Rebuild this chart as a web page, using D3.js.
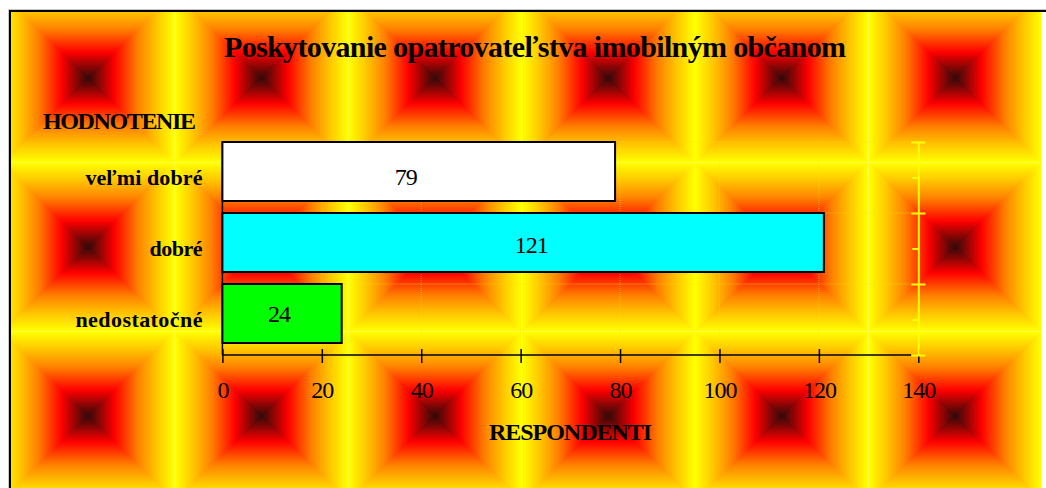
<!DOCTYPE html>
<html>
<head>
<meta charset="utf-8">
<script src="https://cdn.jsdelivr.net/npm/d3@7"></script>
<style>
  html, body { margin: 0; padding: 0; background: #fff; }
  svg { display: block; }
  text { font-family: "Liberation Serif", serif; fill: #000; }
  .cat text { font-size: 22px; font-weight: bold; }
  .xaxis text { font-size: 24px; letter-spacing: -1px; }
</style>
</head>
<body>
<div id="chart"></div>
<script>
const categories = ['veľmi dobré', 'dobré', 'nedostatočné'];
const respondents = [79, 121, 24];
const barColors = ['#ffffff', '#00ffff', '#00ff00'];
const xTicks = [0, 20, 40, 60, 80, 100, 120, 140];
const chartTitle = 'Poskytovanie opatrovateľstva imobilným občanom';
const yTitle = 'HODNOTENIE';
const xTitle = 'RESPONDENTI';

const w = 1046, h = 488;
const plot = {left: 222.4, right: 918.3, top: 142, bottom: 355};
const tile = {x0: 1.4, y0: -6.5, w: 173.4, h: 169};

let svg = d3.select('#chart').append('svg').attr('width', w).attr('height', h);

// box gradient background, drawn as nested rects per tile
let shade = d3.scaleLinear().domain([0, 0.31, 0.58, 0.8, 1])
    .range(['#2e0a0a', '#ff0000', '#ff8000', '#ffc800', '#ffff00']);
svg.append('clipPath').attr('id', 'frame-clip').append('rect')
    .attr('x', 10).attr('y', 11).attr('width', w).attr('height', h);
let bg = svg.append('g').attr('clip-path', 'url(#frame-clip)');
let steps = d3.range(1, 0, -1 / 87);
for (let r = 0; r < 3; r++) {
    for (let c = 0; c < 6; c++) {
        let cx = tile.x0 + (c + 0.5) * tile.w, cy = tile.y0 + (r + 0.5) * tile.h;
        bg.append('g').selectAll('rect').data(steps).join('rect')
            .attr('x', d => cx - d * tile.w / 2)
            .attr('y', d => cy - d * tile.h / 2)
            .attr('width', d => d * tile.w)
            .attr('height', d => d * tile.h)
            .attr('fill', d => shade(d));
    }
}

// outer frame, open at the right and bottom
svg.append('path').attr('d', `M8.5,${h}V9.5H${w}`).attr('fill', 'none').attr('stroke', '#c8c8c8').attr('stroke-width', 1);
svg.append('path').attr('d', `M10,${h}V11H${w}`).attr('fill', 'none').attr('stroke', '#000').attr('stroke-width', 2);

let x = d3.scaleLinear().domain([0, 140]).range([plot.left, plot.right]);
// bars sit at the top of each band
let y = d3.scaleBand().domain(categories).range([plot.top, plot.bottom])
    .paddingInner(12 / 71).paddingOuter(6 / 71).align(0);
let yBands = d3.scaleBand().domain(categories).range([plot.top, plot.bottom]);
let yEdges = d3.scaleLinear().domain([0, 3]).range([plot.top, plot.bottom]);
let color = d3.scaleOrdinal(categories, barColors);

// gridlines
let grid = svg.append('g').attr('stroke', '#ffe000').attr('stroke-opacity', 0.6)
    .attr('stroke-dasharray', '1,1').attr('fill', 'none');
grid.selectAll('.v').data(xTicks.slice(1, -1)).join('line').attr('class', 'v')
    .attr('x1', d => x(d)).attr('x2', d => x(d))
    .attr('y1', plot.top).attr('y2', plot.bottom - 6);
grid.selectAll('.h').data([0, 1, 2]).join('line').attr('class', 'h')
    .attr('x1', plot.left).attr('x2', plot.right)
    .attr('y1', d => yEdges(d)).attr('y2', d => yEdges(d));

// x axis
let xAxis = svg.append('g').attr('class', 'xaxis').attr('transform', `translate(0,${plot.bottom})`)
    .call(d3.axisBottom(x).tickValues(xTicks).tickSize(8).tickSizeOuter(0));
xAxis.select('.domain').attr('stroke-width', 1.5).attr('d', `M${plot.left},0H${x(140) - 7}`);
xAxis.selectAll('.tick line').attr('y1', -6).attr('stroke-width', 1.5);
xAxis.selectAll('.tick text').attr('y', 43).attr('dy', 0).attr('fill', '#000');

// yellow secondary axis on the right
let right = svg.append('g').attr('transform', `translate(${plot.right},0)`);
right.call(d3.axisRight(yEdges).tickValues([0, 1, 2, 3]).tickFormat('').tickSize(7).tickSizeOuter(0));
right.selectAll('.tick line').attr('x1', -7);
right.selectAll('path, line').attr('stroke', '#ffff00').attr('stroke-width', 2);
let rightMinor = svg.append('g').attr('transform', `translate(${plot.right},0)`);
rightMinor.call(d3.axisLeft(yEdges).tickValues([0.5, 1.5, 2.5]).tickFormat('').tickSize(6).tickSizeOuter(0));
rightMinor.select('.domain').remove();
rightMinor.selectAll('line').attr('stroke', '#ffff00').attr('stroke-width', 2);

// category axis
let labelWidths = [117, 53, 127];
let yAxis = svg.append('g').attr('class', 'cat').attr('transform', `translate(${plot.left},0)`)
    .call(d3.axisLeft(yBands).tickSize(0).tickPadding(20));
yAxis.select('.domain').attr('stroke-width', 1.5).attr('d', `M0,${plot.top}V${plot.bottom}`);
yAxis.selectAll('.tick text').attr('dy', '7.5px').attr('fill', '#000')
    .attr('textLength', (d, i) => labelWidths[i]);

// bars
svg.append('g').selectAll('rect').data(categories).join('rect')
    .attr('x', x(0))
    .attr('y', d => y(d))
    .attr('width', (d, i) => x(respondents[i]) - x(0))
    .attr('height', y.bandwidth())
    .attr('fill', d => color(d))
    .attr('stroke', '#000').attr('stroke-width', 2);

// value labels were placed by hand in the original, hence the nudges
let nudgeX = [-13, 8, -3], nudgeY = [13.5, 10, 8];
svg.append('g').selectAll('text').data(categories).join('text')
    .attr('x', (d, i) => (x(0) + x(respondents[i])) / 2 + nudgeX[i])
    .attr('y', (d, i) => y(d) + y.bandwidth() / 2 + nudgeY[i])
    .attr('text-anchor', 'middle').attr('font-size', 24).attr('letter-spacing', -1)
    .text((d, i) => respondents[i]);

svg.append('text').attr('x', 224).attr('y', 57).attr('font-size', 30).attr('font-weight', 'bold')
    .attr('textLength', 622).attr('lengthAdjust', 'spacing').text(chartTitle);
svg.append('text').attr('x', 43).attr('y', 129).attr('font-size', 24).attr('font-weight', 'bold')
    .attr('textLength', 153).attr('lengthAdjust', 'spacing').text(yTitle);
svg.append('text').attr('x', 489).attr('y', 440).attr('font-size', 24).attr('font-weight', 'bold')
    .attr('textLength', 163).attr('lengthAdjust', 'spacing').text(xTitle);
</script>
</body>
</html>
